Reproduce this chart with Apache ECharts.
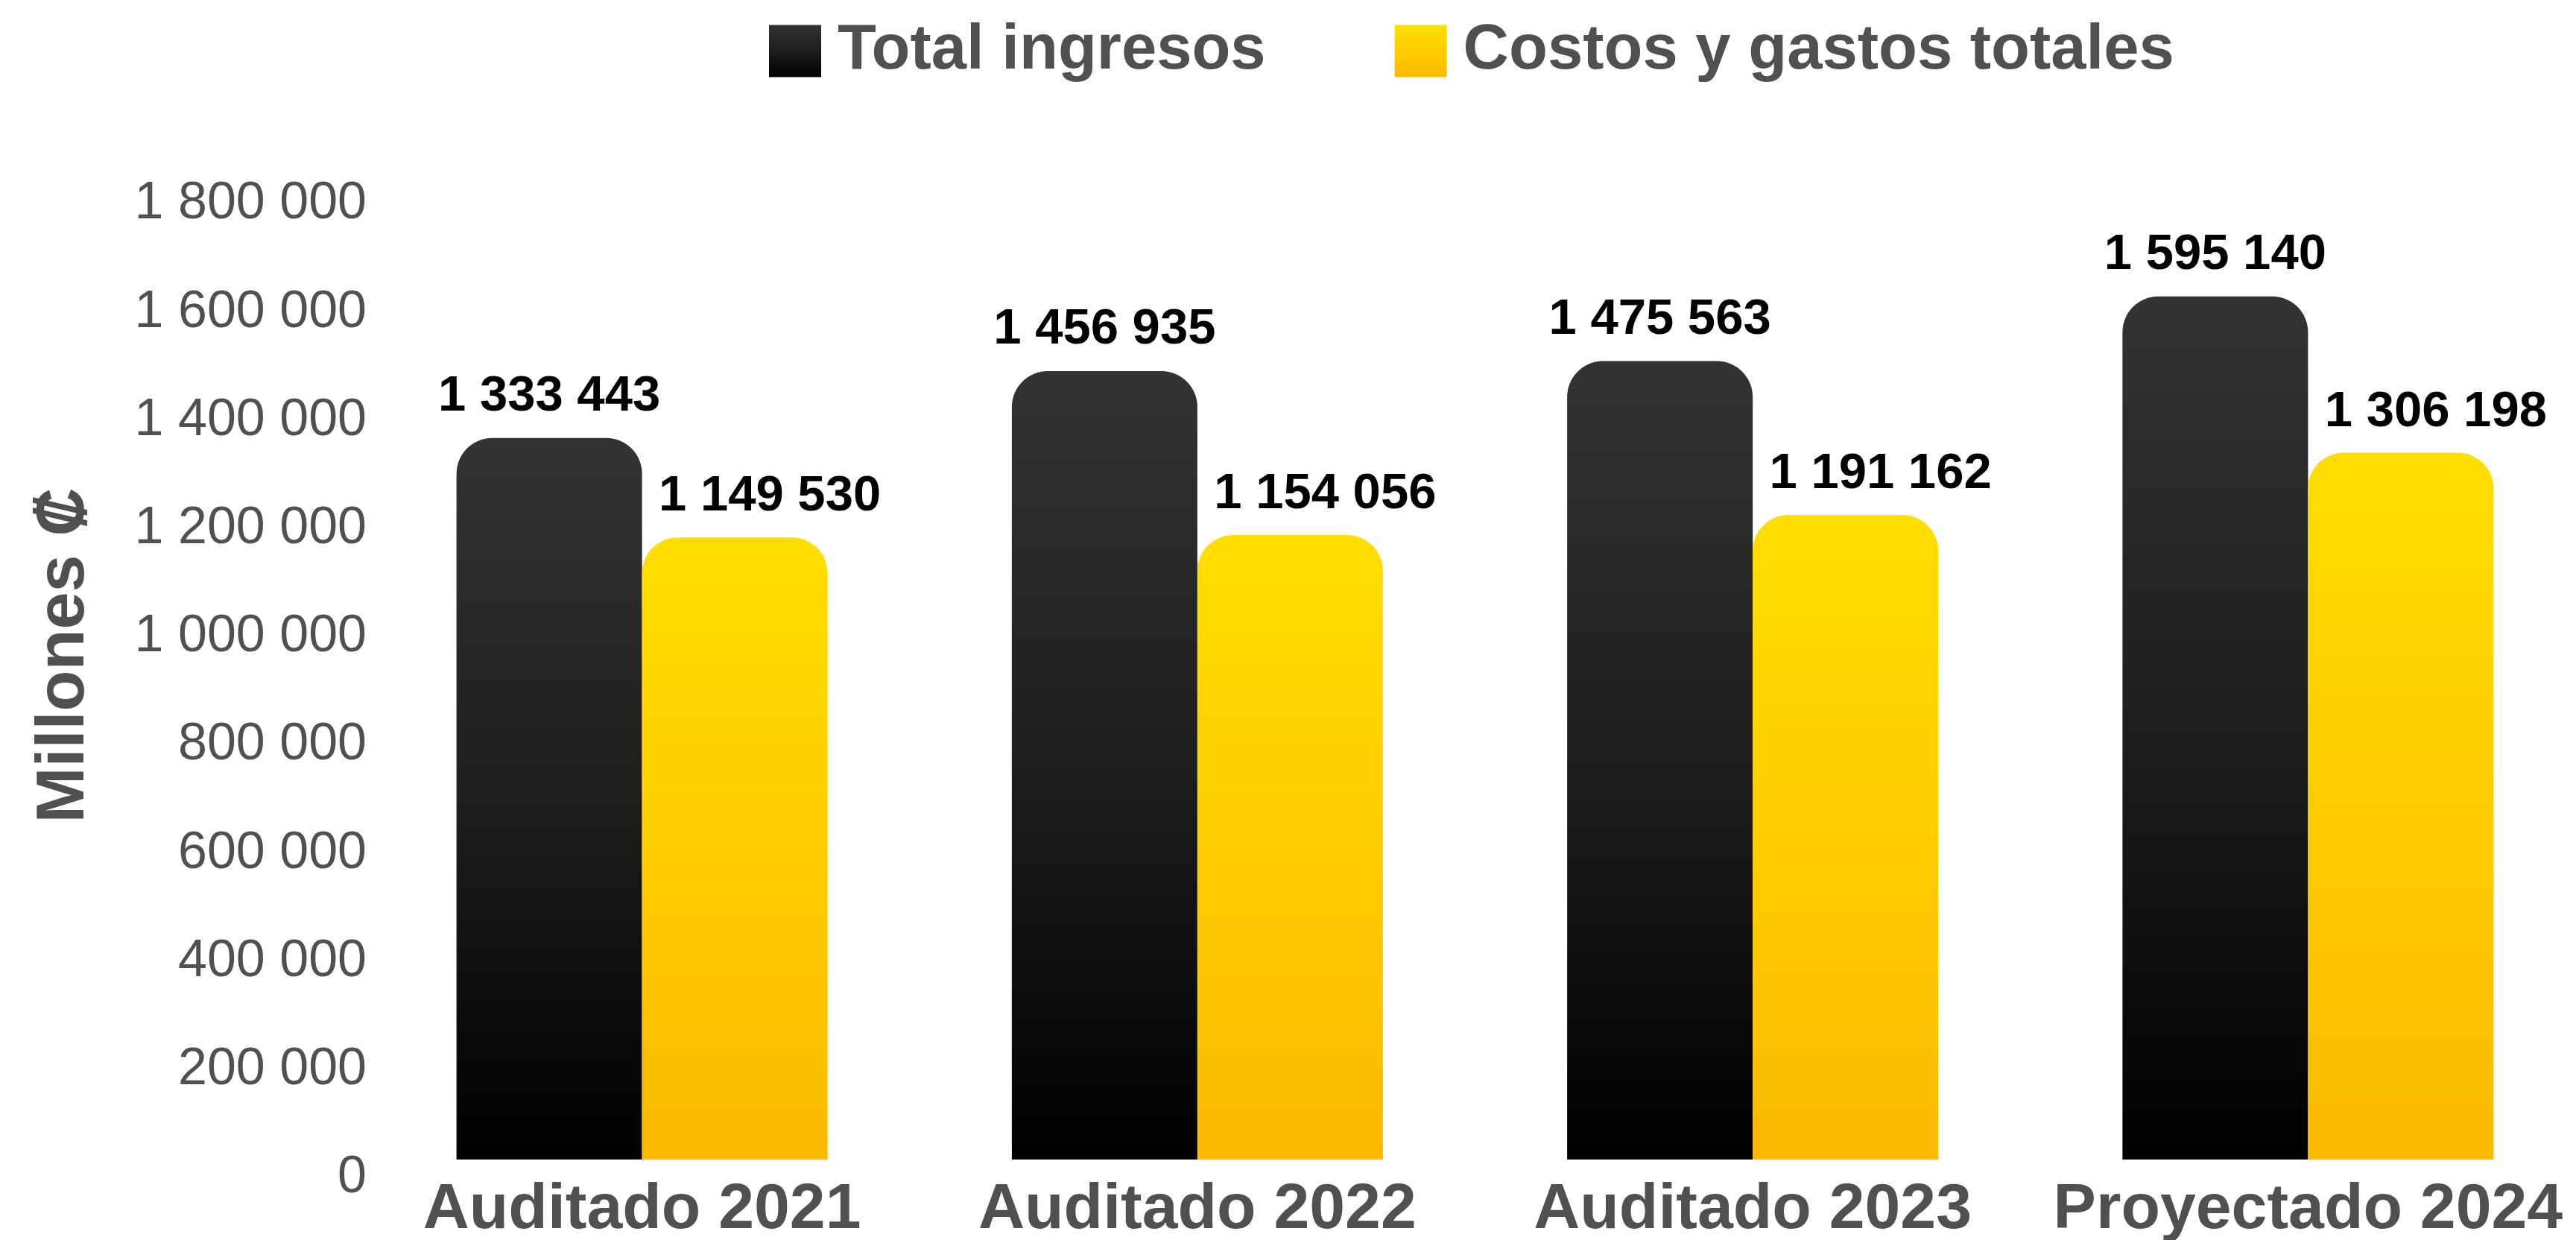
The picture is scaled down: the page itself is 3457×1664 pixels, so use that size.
<!DOCTYPE html>
<html>
<head>
<meta charset="utf-8">
<script src="https://cdn.jsdelivr.net/npm/echarts@6/dist/echarts.min.js"></script>
<style>
html,body{margin:0;padding:0;background:#fff;}
#c{width:3457px;height:1664px;}
</style>
</head>
<body>
<div id="c"></div>
<script>
const categories = ['Auditado 2021', 'Auditado 2022', 'Auditado 2023', 'Proyectado 2024'];
const seriesNames = ['Total ingresos', 'Costos y gastos totales'];
const totalIngresos = [1333443, 1456935, 1475563, 1595140];
const costosGastos = [1149530, 1154056, 1191162, 1306198];
const yTickLabels = ['0', '200 000', '400 000', '600 000', '800 000', '1 000 000', '1 200 000', '1 400 000', '1 600 000', '1 800 000'];
const yAxisTitle = 'Millones ₡';

const FONT = '"Liberation Sans", Arial, Helvetica, sans-serif';
const GREY = '#505050';
const fmt = v => String(v).replace(/\B(?=(\d{3})+(?!\d))/g, ' ');

const blackGrad = new echarts.graphic.LinearGradient(0, 0, 0, 1, [
  {offset: 0, color: '#333333'}, {offset: 0.5, color: '#1e1e1e'}, {offset: 1, color: '#000000'}
]);
const yellowGrad = new echarts.graphic.LinearGradient(0, 0, 0, 1, [
  {offset: 0, color: '#FFDF00'}, {offset: 1, color: '#FBBA00'}
]);

const chart = echarts.init(document.getElementById('c'), null, {renderer: 'canvas'});
chart.setOption({
  animation: false,
  backgroundColor: '#ffffff',
  legend: {
    left: 1032, top: 26, padding: 0,
    itemWidth: 70, itemHeight: 70, itemGap: 173,
    icon: 'rect',
    textStyle: {fontFamily: FONT, fontSize: 85, fontWeight: 'bold', color: GREY, lineHeight: 70, padding: [0, 0, 0, 17]},
    data: seriesNames
  },
  grid: {left: 489, width: 2981, top: 249, bottom: 108, containLabel: false, outerBoundsMode: 'none'},
  xAxis: {
    type: 'category', data: categories,
    axisLine: {show: false}, axisTick: {show: false}, splitLine: {show: false},
    axisLabel: {interval: 0, margin: 25, fontFamily: FONT, fontSize: 86, fontWeight: 'bold', color: GREY, lineHeight: 86}
  },
  yAxis: {
    type: 'value', min: 0, max: 1800000, interval: 200000,
    axisLine: {show: false}, axisTick: {show: false}, splitLine: {show: false},
    axisLabel: {
      margin: -3, fontFamily: FONT, fontSize: 70, color: GREY, verticalAlign: 'top', lineHeight: 50,
      formatter: v => yTickLabels[Math.round(v / 200000)]
    },
    name: yAxisTitle, nameLocation: 'middle', nameRotate: 90, nameGap: 357,
    nameTextStyle: {fontFamily: FONT, fontSize: 90, fontWeight: 'bold', color: GREY, lineHeight: 90, padding: [0, 0, 0, 46]}
  },
  series: [
    {
      name: seriesNames[0], type: 'bar', data: totalIngresos,
      barWidth: 249, barGap: '0%',
      itemStyle: {color: blackGrad, borderRadius: [48, 48, 0, 0]},
      label: {show: true, position: 'top', distance: 22, formatter: p => fmt(p.value),
        fontFamily: FONT, fontSize: 67, fontWeight: 'bold', color: '#000000', lineHeight: 67}
    },
    {
      name: seriesNames[1], type: 'bar', data: costosGastos,
      barWidth: 249,
      itemStyle: {color: yellowGrad, borderRadius: [48, 48, 0, 0]},
      label: {show: true, position: 'top', distance: 21, offset: [47, 0], formatter: p => fmt(p.value),
        fontFamily: FONT, fontSize: 67, fontWeight: 'bold', color: '#000000', lineHeight: 67}
    }
  ]
});
</script>
</body>
</html>
